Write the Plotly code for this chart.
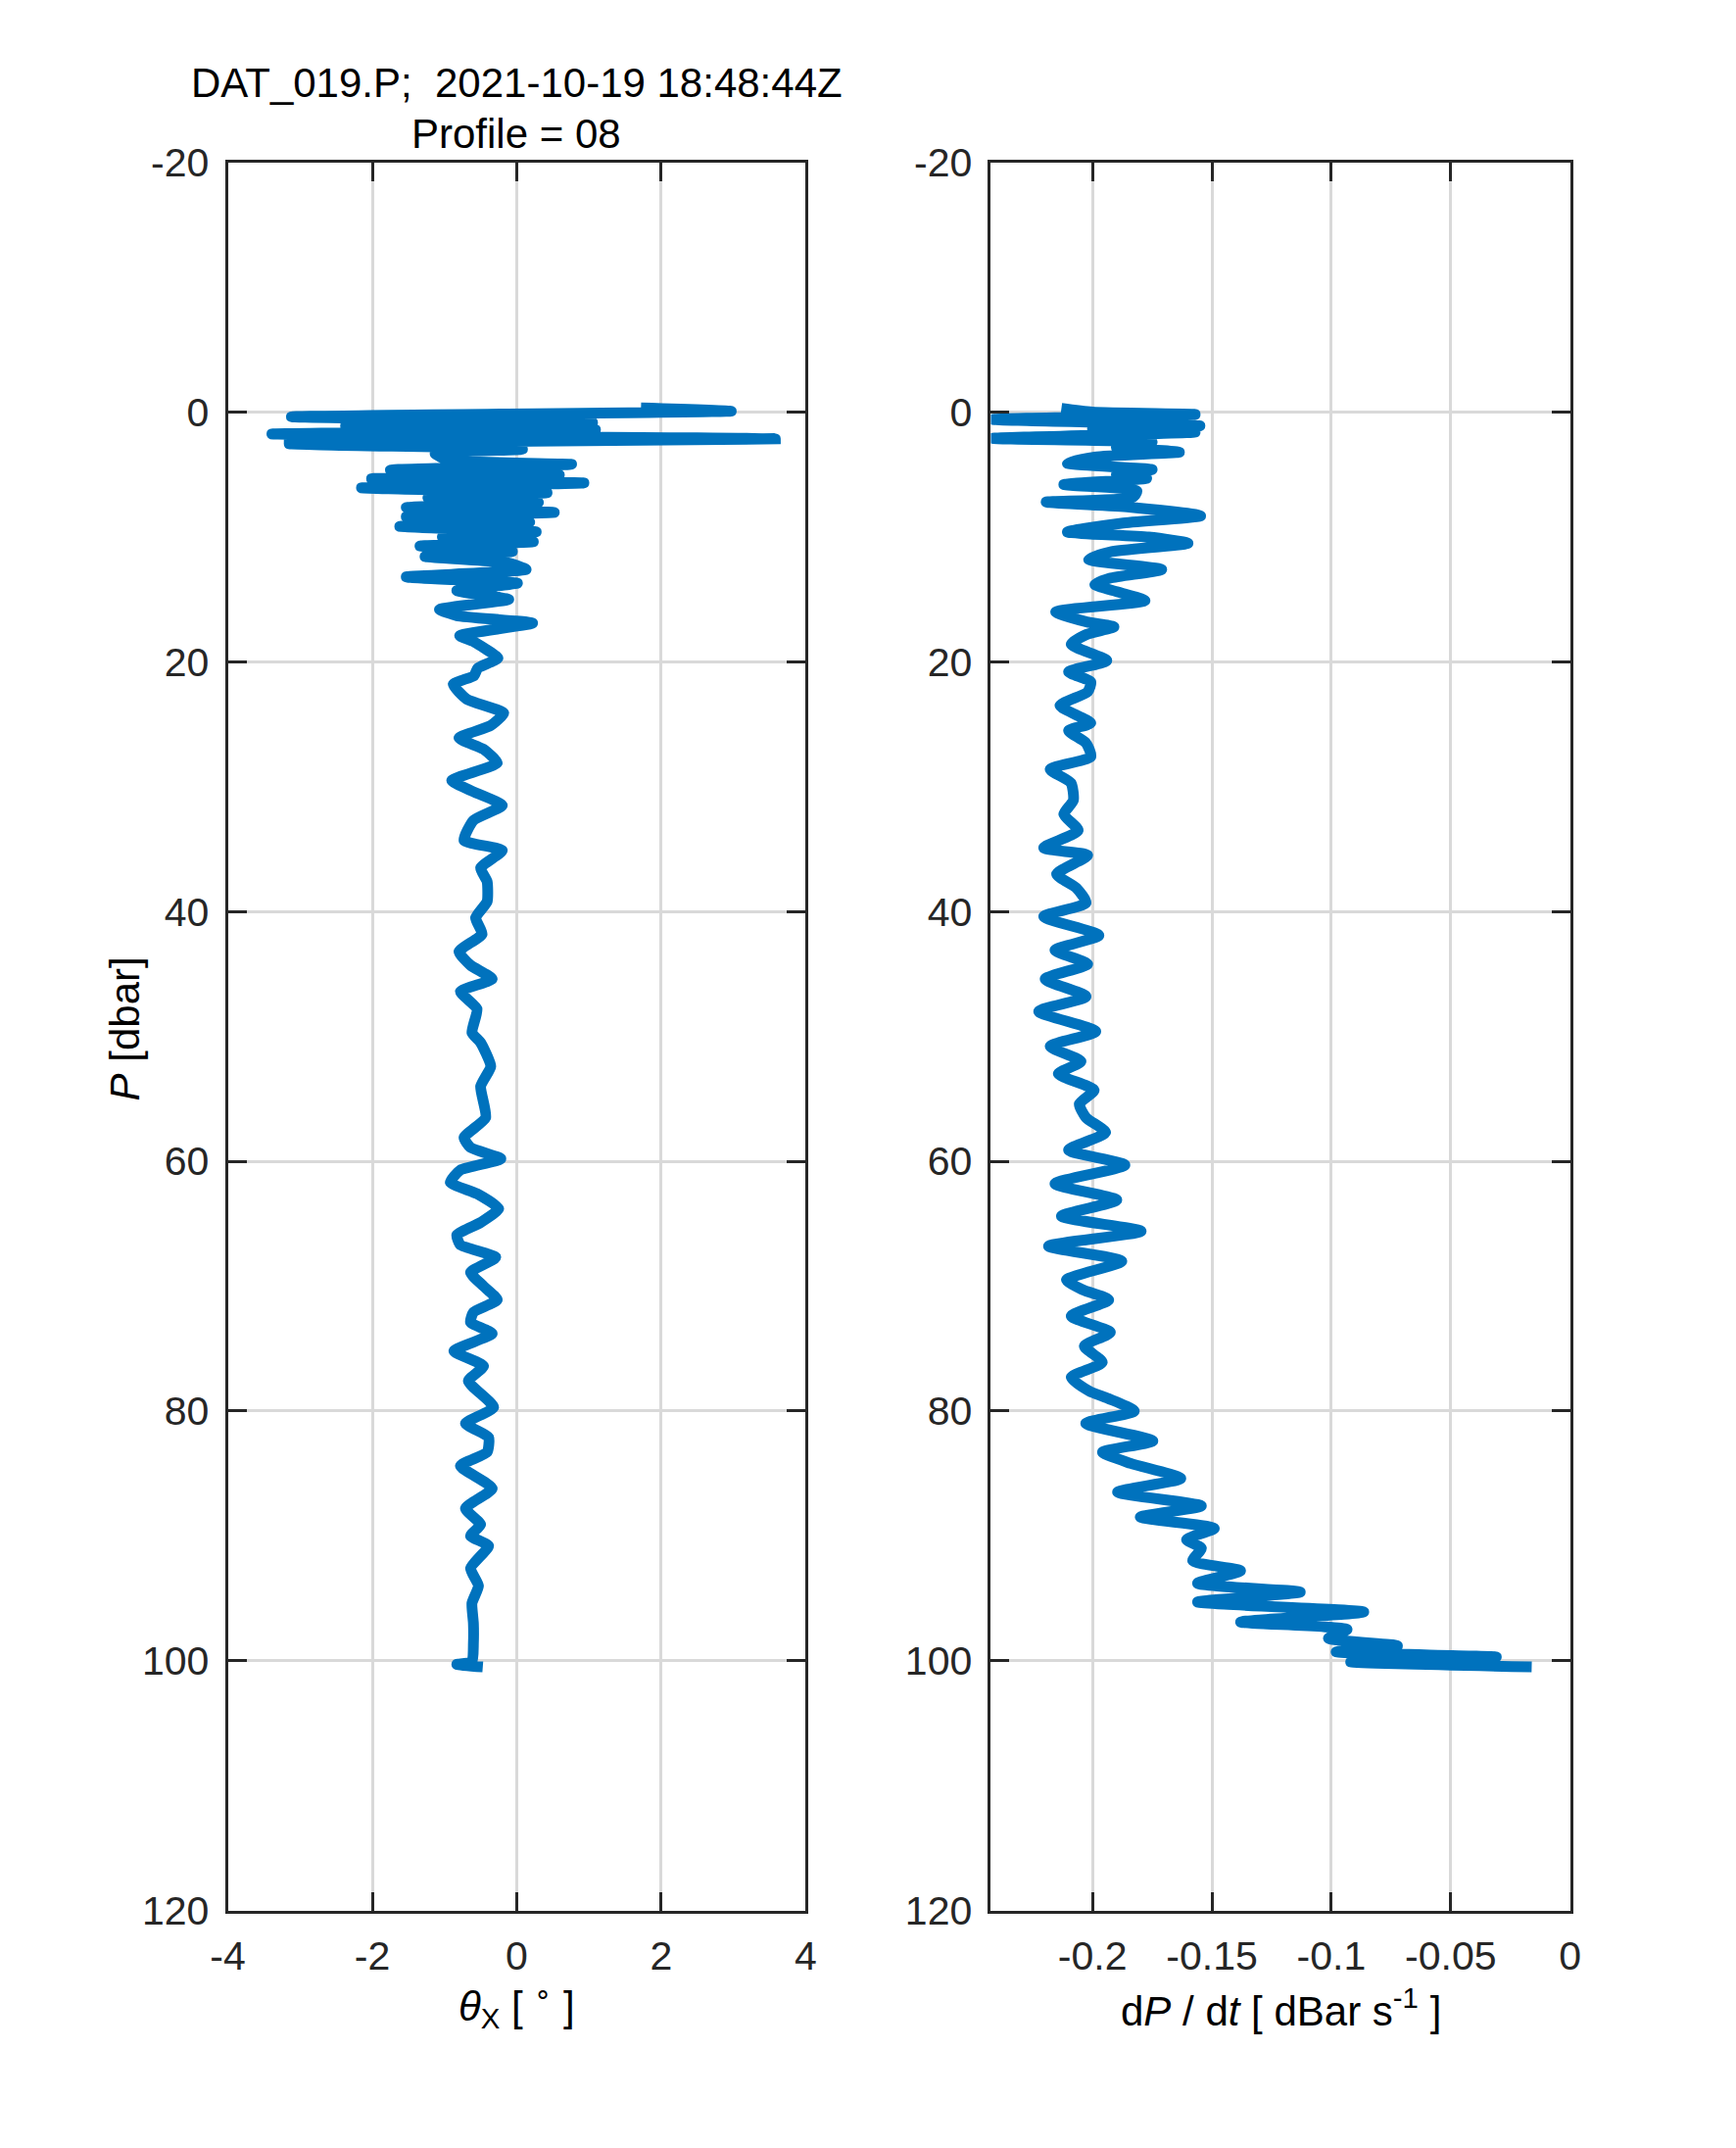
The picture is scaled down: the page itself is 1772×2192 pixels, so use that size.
import plotly.graph_objects as go
from plotly.subplots import make_subplots

# pressure [dbar] and pitch angle theta_X [deg], left panel
P_THETA = [-0.34, -0.08, 0.37, 0.84, 1.1, 1.41, 1.75, 2.14, 2.54, 2.98, 3.32, 3.84, 4.18,
           4.63, 5.02, 5.33, 5.67, 6.07, 6.46, 6.85, 7.24, 7.63, 8.03, 8.37, 8.81, 9.15,
           9.59, 9.99, 10.38, 10.72, 11.16, 11.56, 12.08, 12.6, 13.2, 13.7, 14.3, 15.0,
           15.8, 16.3, 16.9, 17.9, 18.4, 18.9, 19.7, 20.5, 21.1, 21.8, 23.0, 24.1, 25.1,
           26.1, 27.0, 28.1, 29.5, 30.3, 31.5, 32.7, 34.3, 35.1, 36.5, 37.6, 39.2, 40.5,
           41.8, 43.2, 44.3, 45.4, 46.4, 47.8, 49.7, 50.5, 52.4, 54.0, 56.5, 58.1, 58.9,
           59.8, 60.7, 61.7, 62.6, 63.8, 64.9, 65.9, 66.7, 67.7, 68.9, 70.0, 71.1, 72.1,
           72.9, 73.8, 75.2, 76.4, 77.6, 79.7, 81.0, 82.1, 83.3, 84.4, 86.2, 87.8, 89.1,
           90.0, 90.8, 92.6, 94.0, 95.4, 97.0, 98.6, 100.1, 100.3, 100.5]
THETA_X = [1.72, 2.97, -3.12, 1.05, -2.37, 1.09, -3.39, 3.58, -3.15, 0.08, -1.13, -0.95,
           0.76, -1.75, 0.59, -2.01, 0.93, -2.15, 0.42, -1.23, 0.3, -1.53, 0.52, -1.53,
           0.18, -1.62, 0.27, -1.03, 0.23, -1.34, -0.06, -1.27, -0.11, 0.13, -1.53, 0.01,
           -0.83, -0.11, -1.07, -0.83, 0.22, -0.79, -0.59, -0.45, -0.26, -0.54, -0.59,
           -0.88, -0.69, -0.18, -0.36, -0.8, -0.46, -0.27, -0.9, -0.64, -0.2, -0.6, -0.73,
           -0.2, -0.5, -0.41, -0.41, -0.57, -0.48, -0.8, -0.64, -0.34, -0.78, -0.55, -0.62,
           -0.5, -0.36, -0.5, -0.43, -0.73, -0.64, -0.22, -0.78, -0.92, -0.55, -0.25, -0.5,
           -0.83, -0.78, -0.29, -0.64, -0.46, -0.27, -0.6, -0.64, -0.34, -0.87, -0.46,
           -0.67, -0.32, -0.71, -0.39, -0.41, -0.78, -0.34, -0.71, -0.5, -0.64, -0.39,
           -0.64, -0.53, -0.62, -0.6, -0.6, -0.62, -0.83, -0.47]

# pressure [dbar] and fall rate dP/dt [dBar/s], right panel
P_DPDT = [-0.3, 0.0, 0.18, 0.58, 0.85, 1.1, 1.35, 1.6, 2.1, 2.4, 2.8, 3.2, 3.6, 4.1, 4.6,
          5.0, 5.3, 5.8, 6.3, 6.8, 7.2, 7.6, 8.3, 8.9, 9.6, 10.0, 10.5, 11.2, 11.8, 12.6,
          13.3, 13.8, 14.4, 15.1, 16.0, 16.8, 17.2, 17.8, 18.6, 19.9, 20.8, 21.6, 22.4,
          23.5, 24.9, 25.5, 26.5, 27.6, 28.6, 29.7, 31.1, 32.2, 33.5, 34.9, 35.5, 37.0,
          38.1, 39.3, 40.4, 41.9, 43.1, 44.2, 45.4, 46.8, 48.0, 49.6, 50.8, 52.0, 53.0,
          54.3, 55.4, 56.5, 57.7, 59.1, 60.3, 61.8, 63.1, 64.4, 65.6, 66.8, 68.0, 69.5,
          70.3, 71.1, 72.4, 73.7, 74.8, 76.1, 77.3, 78.4, 79.0, 80.0, 81.0, 82.4, 83.3,
          84.2, 85.4, 86.5, 87.6, 88.5, 89.4, 90.3, 91.0, 92.0, 92.8, 93.8, 94.5, 95.3,
          96.1, 96.9, 97.5, 98.2, 98.8, 99.3, 99.7, 100.1, 100.5]
DPDT = [-0.213, -0.2, -0.157, -0.242, -0.19, -0.155, -0.2, -0.157, -0.242, -0.175, -0.19,
        -0.1636, -0.199, -0.2105, -0.175, -0.19, -0.1773, -0.212, -0.1814, -0.183, -0.2194,
        -0.1846, -0.1547, -0.1879, -0.2105, -0.1765, -0.16, -0.1927, -0.2016, -0.171,
        -0.1927, -0.199, -0.1895, -0.178, -0.2154, -0.2024, -0.191, -0.2024, -0.2089,
        -0.194, -0.21, -0.2007, -0.202, -0.2136, -0.2007, -0.21, -0.2027, -0.2007, -0.2177,
        -0.209, -0.208, -0.212, -0.206, -0.2204, -0.202, -0.215, -0.2068, -0.2027, -0.2204,
        -0.1973, -0.2157, -0.202, -0.2198, -0.2027, -0.2225, -0.1986, -0.2177, -0.2048,
        -0.2143, -0.1993, -0.2055, -0.2027, -0.1945, -0.21, -0.1864, -0.2157, -0.1898,
        -0.213, -0.1796, -0.2184, -0.1877, -0.2109, -0.204, -0.1932, -0.2089, -0.1925,
        -0.2034, -0.1959, -0.2089, -0.2014, -0.1934, -0.1825, -0.2028, -0.1747, -0.1958,
        -0.184, -0.163, -0.1895, -0.1544, -0.18, -0.149, -0.1606, -0.1544, -0.158, -0.138,
        -0.156, -0.113, -0.156, -0.0864, -0.138, -0.0934, -0.1012, -0.0723, -0.098, -0.0309,
        -0.0919, -0.0161]

P_TICKS = [-20, 0, 20, 40, 60, 80, 100, 120]
THETA_TICKS = [-4, -2, 0, 2, 4]
DPDT_TICKS = [-0.2, -0.15, -0.1, -0.05, 0]

BLUE = "#0072BD"
AX = "#262626"
FONT = "Liberation Sans, Arial, Helvetica, sans-serif"

fig = make_subplots(rows=1, cols=2)
fig.add_trace(go.Scatter(x=THETA_X, y=P_THETA, mode="lines",
                         line=dict(color=BLUE, width=11, shape="spline", smoothing=0.5)),
              row=1, col=1)
fig.add_trace(go.Scatter(x=DPDT, y=P_DPDT, mode="lines",
                         line=dict(color=BLUE, width=11, shape="spline", smoothing=0.6)),
              row=1, col=2)

common = dict(showline=True, linecolor=AX, linewidth=3, mirror="ticks",
              ticks="inside", ticklen=19, tickwidth=3, tickcolor=AX,
              showgrid=True, gridcolor="#d9d9d9", gridwidth=3, zeroline=False,
              tickfont=dict(family=FONT, size=41, color=AX))

fig.update_xaxes(common)
fig.update_yaxes(common)
fig.update_xaxes(domain=[0.1185, 0.4569], range=[-4, 4], tickvals=THETA_TICKS,
                 ticktext=[str(t) for t in THETA_TICKS], ticklabelstandoff=8,
                 row=1, col=1)
fig.update_xaxes(domain=[0.5654, 0.9046], range=[-0.2425, 0], tickvals=DPDT_TICKS,
                 ticktext=["-0.2", "-0.15", "-0.1", "-0.05", "0"], ticklabelstandoff=8,
                 row=1, col=2)
fig.update_yaxes(domain=[0.106, 0.9372], range=[120, -20], tickvals=P_TICKS,
                 ticktext=[str(t) for t in P_TICKS], ticklabelstandoff=8)

ann = dict(xref="paper", yref="paper", showarrow=False, xanchor="center",
           yanchor="middle", font=dict(family=FONT, size=42, color="black"))
fig.add_annotation(ann, x=0.2877, y=0.975, text="DAT_019.P;  2021-10-19 18:48:44Z")
fig.add_annotation(ann, x=0.2877, y=0.951, text="Profile = 08")
fig.add_annotation(ann, x=0.0580, y=0.525, text="<i>P</i> [dbar]", textangle=-90)
fig.add_annotation(ann, x=0.2877, y=0.0610,
                   text="<i>θ</i><sub>X</sub> [ <sup>∘</sup> ]")
fig.add_annotation(ann, x=0.7350, y=0.0595,
                   text="d<i>P</i> / d<i>t</i> [ dBar s<sup>-1</sup> ]")

fig.update_layout(width=1772, height=2192, showlegend=False,
                  margin=dict(l=0, r=0, t=0, b=0),
                  paper_bgcolor="white", plot_bgcolor="white")

fig.write_html("out.html")
